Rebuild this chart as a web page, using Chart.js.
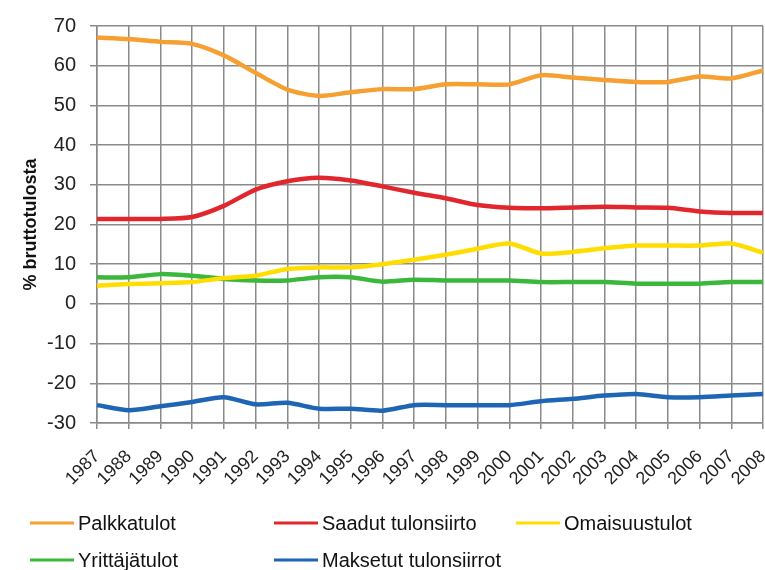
<!DOCTYPE html>
<html>
<head>
<meta charset="utf-8">
<script src="https://cdn.jsdelivr.net/npm/chart.js@4/dist/chart.umd.min.js"></script>
<style>
    html, body { margin: 0; padding: 0; background: #fff; }
    #wrap { width: 765px; height: 570px; position: relative; }
</style>
</head>
<body>
<div id="wrap"><canvas id="tulot"></canvas></div>
<script>
// vuodet ja sarjat (% bruttotulosta)
var years = ["1987", "1988", "1989", "1990", "1991", "1992", "1993", "1994", "1995", "1996", "1997",
    "1998", "1999", "2000", "2001", "2002", "2003", "2004", "2005", "2006", "2007", "2008"];

var palkkatulot = [67.1, 66.7, 66.0, 65.5, 62.6, 58.2, 54.0, 52.4, 53.3, 54.1, 54.1,
    55.3, 55.3, 55.3, 57.6, 57.0, 56.4, 55.9, 55.9, 57.3, 56.8, 58.8];
var saadut = [21.4, 21.4, 21.4, 21.9, 24.7, 28.8, 30.9, 31.8, 31.1, 29.6, 28.0,
    26.6, 24.9, 24.2, 24.1, 24.3, 24.5, 24.3, 24.2, 23.3, 22.9, 22.9];
var omaisuustulot = [4.6, 5.0, 5.2, 5.5, 6.5, 7.1, 8.8, 9.2, 9.2, 10.0, 11.1,
    12.4, 13.9, 15.2, 12.7, 13.1, 14.0, 14.7, 14.7, 14.7, 15.2, 12.9];
var yrittajatulot = [6.7, 6.7, 7.5, 7.1, 6.3, 5.9, 5.9, 6.7, 6.7, 5.6, 6.1,
    5.9, 5.9, 5.9, 5.5, 5.5, 5.5, 5.1, 5.1, 5.1, 5.5, 5.5];
var maksetut = [-25.5, -26.8, -25.8, -24.7, -23.5, -25.3, -24.9, -26.4, -26.4, -26.9, -25.5,
    -25.5, -25.5, -25.5, -24.5, -23.9, -23.1, -22.7, -23.5, -23.5, -23.1, -22.7];

var seriesNames = ["Palkkatulot", "Saadut tulonsiirto", "Omaisuustulot", "Yrittäjätulot", "Maksetut tulonsiirrot"];
var seriesColors = ["#F5A031", "#E2262E", "#FFDD00", "#3BB83B", "#1E66B5"];
var seriesData = [palkkatulot, saadut, omaisuustulot, yrittajatulot, maksetut];

var FONT = "'Liberation Sans', Arial, sans-serif";

function make_dataset(i) {
    return {
        label: seriesNames[i],
        data: seriesData[i],
        borderColor: seriesColors[i],
        backgroundColor: seriesColors[i],
        borderWidth: 4.5,
        pointRadius: 0,
        tension: 0.25,
        fill: false
    };
}

// legenda kolmeen sarakkeeseen kuten alkuperäisessä
var gridLegend = {
    id: 'gridLegend',
    afterDraw: function (chart) {
        var ctx = chart.ctx;
        var cols = [30, 274, 516];
        var rows = [523, 560];
        ctx.save();
        ctx.font = "20px " + FONT;
        ctx.textBaseline = 'middle';
        ctx.fillStyle = '#111';
        chart.data.datasets.forEach(function (ds, i) {
            var x = cols[i % 3];
            var y = rows[Math.floor(i / 3)];
            ctx.strokeStyle = ds.borderColor;
            ctx.lineWidth = 3;
            ctx.beginPath();
            ctx.moveTo(x, y);
            ctx.lineTo(x + 44, y);
            ctx.stroke();
            ctx.fillText(ds.label, x + 48, y + 1);
        });
        ctx.restore();
    }
};

var ctx = document.getElementById("tulot");

var chart = new Chart(ctx, {
    type: 'line',
    data: {
        labels: years,
        datasets: [0, 1, 2, 3, 4].map(make_dataset)
    },
    plugins: [gridLegend],
    options: {
        responsive: true,
        maintainAspectRatio: false,
        animation: false,
        layout: { padding: { top: 20, right: 2, left: 20, bottom: 0 } },
        plugins: {
            legend: { display: false },
            tooltip: { enabled: false }
        },
        scales: {
            x: {
                offset: false,
                grid: { color: '#8a8a8a', lineWidth: 1.5, tickLength: 6, drawTicks: true },
                border: { color: '#8a8a8a', width: 1.5 },
                ticks: {
                    color: '#222',
                    font: { family: FONT, size: 18 },
                    minRotation: 45,
                    maxRotation: 45,
                    autoSkip: false,
                    padding: 17
                },
                afterFit: function (scale) {
                    scale.height = 147;
                    scale.paddingLeft = 0;
                    scale.paddingRight = 0;
                }
            },
            y: {
                min: -30,
                max: 70,
                grid: { color: '#8a8a8a', lineWidth: 1.5, tickLength: 7 },
                border: { color: '#8a8a8a', width: 1.5 },
                ticks: {
                    stepSize: 10,
                    color: '#222',
                    font: { family: FONT, size: 20 },
                    padding: 14
                },
                title: {
                    display: true,
                    text: '% bruttotulosta',
                    color: '#111',
                    font: { family: FONT, size: 18, weight: 'bold' },
                    padding: { top: 0, bottom: 0 }
                },
                afterFit: function (scale) {
                    scale.width = 77;
                }
            }
        }
    }
});
</script>
</body>
</html>
